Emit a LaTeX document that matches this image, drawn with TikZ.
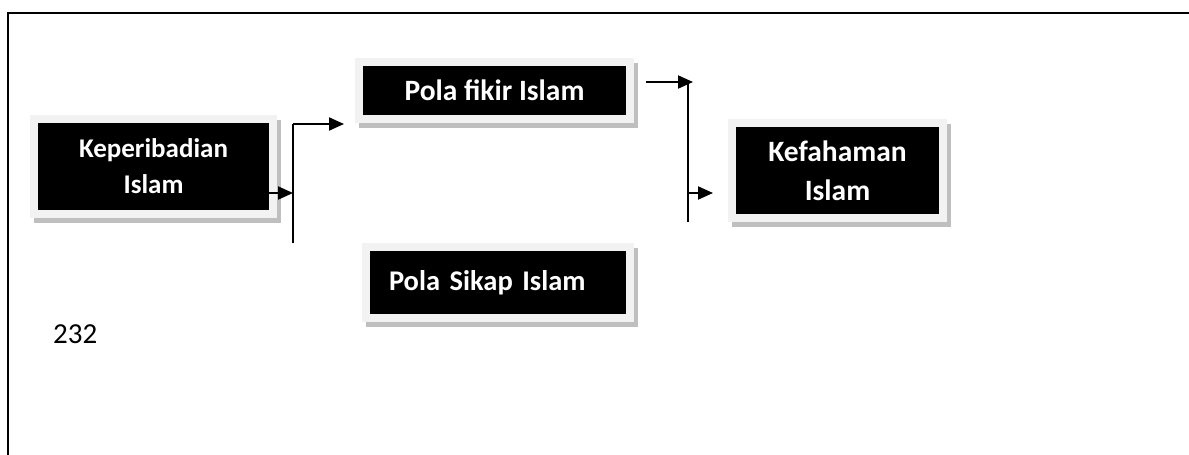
\documentclass[tikz,border=0pt]{standalone}
\usepackage{fontspec}
\setmainfont{Carlito}
\usetikzlibrary{arrows.meta,backgrounds}
\definecolor{frameg}{HTML}{F2F2F2}
\definecolor{shadg}{HTML}{BFBFBF}
\tikzset{
  blk/.style={fill=black, text=white, inner sep=0pt, font=\fontsize{29.5}{39}\selectfont\bfseries, align=center},
  arr/.style={line width=2pt, -{Triangle[length=15pt,width=13pt]}},
  vline/.style={line width=1.5pt},
}
\newcommand{\islamframeXY}[1]{%
  \fill[shadg] ([xshift=-4pt,yshift=3pt]#1.north west) rectangle ([xshift=12pt,yshift=-13pt]#1.south east);
  \fill[frameg] ([xshift=-8pt,yshift=8pt]#1.north west) rectangle ([xshift=8pt,yshift=-8pt]#1.south east);
}
\begin{document}
\begin{tikzpicture}[x=1pt,y=-1pt]
\useasboundingbox (0,0) rectangle (1189,455);
\draw[line width=1.5pt] (1189,13) -- (8,13) -- (8,455);

\node[blk, minimum width=231pt, minimum height=87pt, font=\fontsize{27}{36}\selectfont\bfseries] (kep) at (153.5,166.5) {Keperibadian\\Islam};
\node[blk, minimum width=263pt, minimum height=49pt] (pf) at (494.5,90.5) {Pola fikir Islam};
\node[blk, minimum width=256pt, minimum height=63pt, text width=218pt, align=left, font=\fontsize{28.5}{36}\selectfont\bfseries] (ps) at (498,282.5) {Pola Sikap Islam};
\node[blk, minimum width=203pt, minimum height=87pt] (kf) at (837.5,170.5) {Kefahaman\\Islam};

\begin{scope}[on background layer]
\fill[white] (0,0) rectangle (1189,455);
\islamframeXY{kep}
\islamframeXY{pf}
\islamframeXY{ps}
\islamframeXY{kf}
\end{scope}

\coordinate (j1) at (293,193);
\coordinate (v1t) at (293,124);
\coordinate (v1b) at (293,243);
\coordinate (a1) at (344,124);
\draw[arr] (kep.east |- j1) -- (j1);
\draw[vline] (v1t) -- (v1b);
\draw[arr] (v1t) -- (a1);

\coordinate (c1) at (646,82);
\coordinate (c2) at (693,82);
\coordinate (v2t) at (688,82);
\coordinate (v2b) at (688,222);
\coordinate (j2) at (688,193);
\coordinate (c3) at (713,193);
\draw[arr] (c1) -- (c2);
\draw[vline] (v2t) -- (v2b);
\draw[arr] (j2) -- (c3);

\node[anchor=base west, inner sep=0pt, font=\fontsize{29}{34}\selectfont] (num) at (53,343) {232};
\end{tikzpicture}
\end{document}
